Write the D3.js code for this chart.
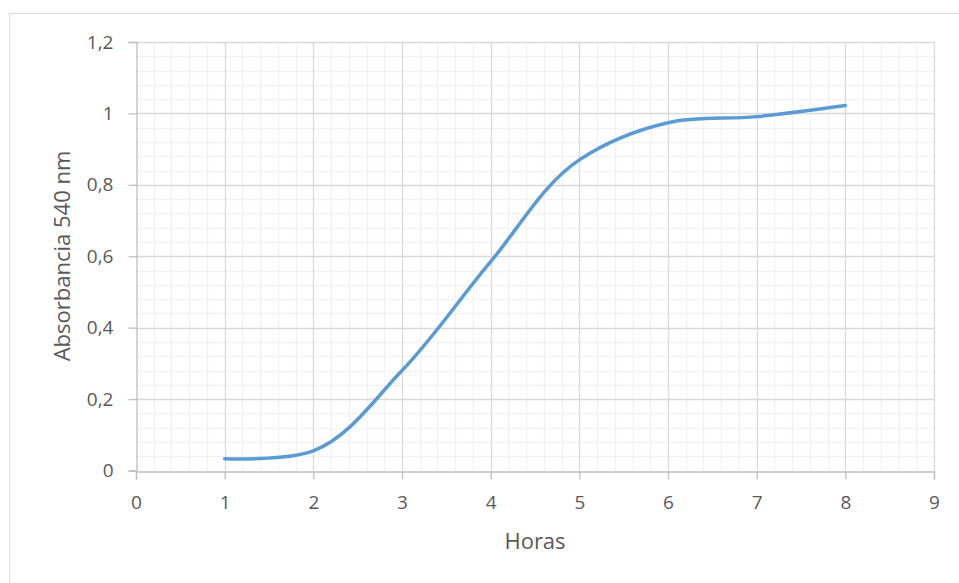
<!DOCTYPE html>
<html><head><meta charset="utf-8">
<script src="https://cdn.jsdelivr.net/npm/d3@7"></script>
<style>body{margin:0;background:#fff}svg{display:block}text{font-family:"Open Sans","Noto Sans",sans-serif;fill:#595959}</style>
</head><body>
<svg id="c" width="959" height="583"></svg>
<script>
const horas = [1, 2, 3, 4, 5, 6, 7, 8];
const absorbancia = [0.033, 0.055, 0.28, 0.585, 0.87, 0.974, 0.991, 1.022];
const xTicks = [0,1,2,3,4,5,6,7,8,9];
const yTicks = [0,0.2,0.4,0.6,0.8,1,1.2];
const xLabel = "Horas", yLabel = "Absorbancia 540 nm";

const svg = d3.select("#c");
svg.append("rect").attr("x",9.5).attr("y",13.5).attr("width",960).attr("height",600)
  .attr("fill","none").attr("stroke","#d9d9d9").attr("stroke-width",1);

const x = d3.scaleLinear().domain([0,9]).range([136,934]);
const y = d3.scaleLinear().domain([0,1.2]).range([470.5,42]);
const g = svg.append("g");

// minor grid
const xMinor = d3.range(0,9.0001,0.2).filter(v=>Math.abs(v-Math.round(v))>1e-6);
const yMinor = d3.range(0,1.2001,0.04).filter(v=>Math.abs(v/0.2-Math.round(v/0.2))>1e-6);
g.selectAll(".xm").data(xMinor).enter().append("line")
  .attr("x1",d=>Math.round(x(d))+0.5).attr("x2",d=>Math.round(x(d))+0.5)
  .attr("y1",y(1.2)).attr("y2",y(0)).attr("stroke","#f2f2f2").attr("stroke-width",1.3);
g.selectAll(".ym").data(yMinor).enter().append("line")
  .attr("y1",d=>Math.round(y(d))+0.5).attr("y2",d=>Math.round(y(d))+0.5)
  .attr("x1",x(0)).attr("x2",x(9)).attr("stroke","#f2f2f2").attr("stroke-width",1.3);
// major grid
g.selectAll(".xM").data(xTicks.slice(1)).enter().append("line")
  .attr("x1",d=>Math.round(x(d))+0.5).attr("x2",d=>Math.round(x(d))+0.5)
  .attr("y1",y(1.2)).attr("y2",y(0)).attr("stroke","#d9d9d9").attr("stroke-width",1.3);
g.selectAll(".yM").data(yTicks.slice(1)).enter().append("line")
  .attr("y1",d=>Math.round(y(d))+0.5).attr("y2",d=>Math.round(y(d))+0.5)
  .attr("x1",x(0)).attr("x2",x(9)).attr("stroke","#d9d9d9").attr("stroke-width",1.3);

// axes
const fmt = d=>String(+d.toFixed(1)).replace(".",",");
const xa = svg.append("g").attr("transform",`translate(0,${Math.round(y(0))+0.5})`)
  .call(d3.axisBottom(x).tickValues(xTicks).tickSize(8).tickPadding(16).tickFormat(fmt));
const ya = svg.append("g").attr("transform",`translate(${Math.round(x(0))+0.5},0)`)
  .call(d3.axisLeft(y).tickValues(yTicks).tickSize(8).tickPadding(15).tickFormat(fmt));
[xa,ya].forEach(a=>{
  a.select(".domain").attr("stroke","#bfbfbf").attr("stroke-width",1.3);
  a.selectAll(".tick line").attr("stroke","#bfbfbf").attr("stroke-width",1.3);
  a.selectAll("text").attr("fill","#595959").style("font-size","19px").style("font-family",'"Open Sans","Noto Sans",sans-serif');
});

// line
const data = horas.map((h,i)=>[h,absorbancia[i]]);
svg.append("path").datum(data)
  .attr("d", d3.line().x(d=>x(d[0])).y(d=>y(d[1])).curve(d3.curveCatmullRom.alpha(1)))
  .attr("fill","none").attr("stroke","#5b9bd5").attr("stroke-width",3.5).attr("stroke-linecap","round");

svg.append("text").attr("x",535).attr("y",549).attr("text-anchor","middle")
  .style("font-size","22px").text(xLabel);
svg.append("text").attr("transform","translate(70,256) rotate(-90)").attr("text-anchor","middle")
  .style("font-size","22px").text(yLabel);
</script>
</body></html>
